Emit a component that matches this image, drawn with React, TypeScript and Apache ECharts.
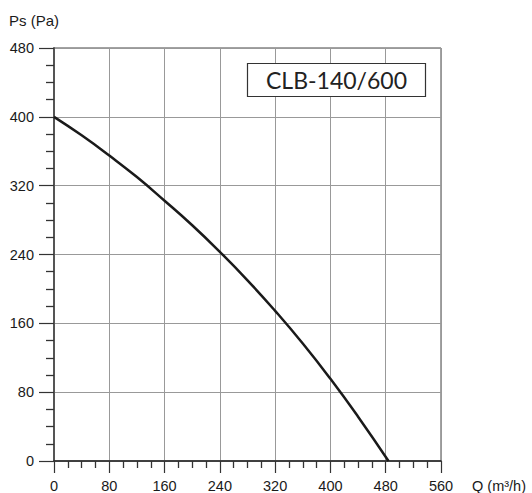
import React, { useEffect, useRef } from "react";
import * as echarts from "echarts";

const flowQ = [0, 40, 80, 120, 160, 200, 240, 280, 320, 360, 400, 440, 484];
const pressurePs = [400, 378.5, 355, 330, 302.5, 274, 243, 210, 174.5, 136.5, 95.5, 51.5, 0];
const modelName = "CLB-140/600";
const xName = "Q (m³/h)";
const yName = "Ps (Pa)";

export default function App() {
  const ref = useRef<HTMLDivElement>(null);
  useEffect(() => {
    if (!ref.current) return;
    const chart = echarts.init(ref.current, undefined, { renderer: "svg" });
    const font = "'Liberation Sans', Arial, Helvetica, sans-serif";
    chart.setOption({
      animation: false,
      backgroundColor: "#fff",
      title: {
        text: modelName,
        left: 247,
        top: 63,
        padding: [5, 19, 5, 19],
        borderColor: "#333",
        borderWidth: 1.2,
        backgroundColor: "#fff",
        textStyle: {
          fontFamily: "Lato, 'Open Sans', sans-serif",
          fontWeight: "normal",
          fontSize: 23,
          lineHeight: 24,
          color: "#222",
        },
      },
      grid: {
        left: 54,
        top: 48,
        width: 387,
        height: 414,
        show: true,
        borderColor: "#444",
        borderWidth: 1,
        backgroundColor: "transparent",
      },
      xAxis: {
        type: "value",
        min: 0,
        max: 560,
        interval: 80,
        name: xName,
        nameLocation: "end",
        nameGap: 31,
        nameTextStyle: {
          fontFamily: font,
          fontSize: 14.5,
          color: "#1a1a1a",
          verticalAlign: "top",
          padding: [17, 0, 0, 0],
        },
        axisLine: { show: true, onZero: false, lineStyle: { color: "#222", width: 1.5 } },
        axisTick: { show: true, inside: false, length: 12, lineStyle: { color: "#333", width: 1.2 } },
        minorTick: { show: true, splitNumber: 4, length: 7, lineStyle: { color: "#333", width: 1.3 } },
        axisLabel: { margin: 17, fontFamily: font, fontSize: 14.5, color: "#1a1a1a" },
        splitLine: { show: true, lineStyle: { color: "#999", width: 1 } },
      },
      yAxis: {
        type: "value",
        min: 0,
        max: 480,
        interval: 80,
        name: yName,
        nameLocation: "end",
        nameGap: 20,
        nameTextStyle: {
          fontFamily: font,
          fontSize: 15,
          color: "#1a1a1a",
          align: "center",
          padding: [0, 40, 0, 0],
        },
        axisLine: { show: true, onZero: false, lineStyle: { color: "#555", width: 2 } },
        axisTick: { show: true, inside: false, length: 15, lineStyle: { color: "#333", width: 1.2 } },
        minorTick: { show: true, splitNumber: 4, length: 8, lineStyle: { color: "#333", width: 1.3 } },
        axisLabel: { margin: 20, fontFamily: font, fontSize: 14.5, color: "#1a1a1a" },
        splitLine: { show: true, lineStyle: { color: "#999", width: 1 } },
      },
      series: [
        {
          type: "line",
          data: flowQ.map((q, i) => [q, pressurePs[i]]),
          smooth: true,
          showSymbol: false,
          symbol: "none",
          lineStyle: { color: "#1a1a1a", width: 2.5 },
          z: 5,
        },
      ],
    });
    return () => chart.dispose();
  }, []);
  return (
    <div
      ref={ref}
      style={{ position: "fixed", left: 0, top: 0, width: 532, height: 493 }}
    />
  );
}
